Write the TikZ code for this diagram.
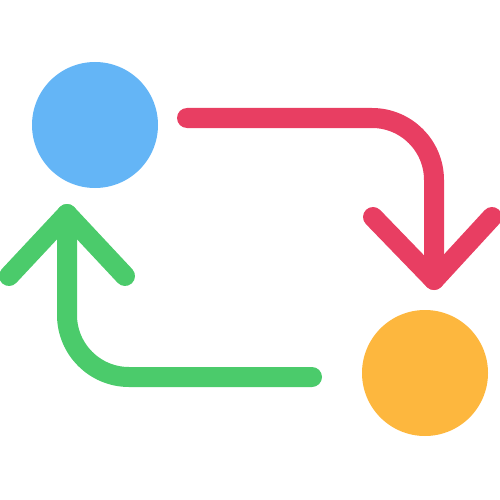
\documentclass[tikz,border=0pt]{standalone}
\usetikzlibrary{positioning}
\definecolor{dotblue}{HTML}{64B5F6}
\definecolor{dotyellow}{HTML}{FDB73E}
\definecolor{flowred}{HTML}{E83E62}
\definecolor{flowgreen}{HTML}{4BCB6B}
\begin{document}
\begin{tikzpicture}[x=1pt, y=-1pt,
                    dot/.style = {circle, inner sep=0pt, minimum size=126pt},
                    flow/.style = {line width=20pt, line cap=round, line join=round},
                    curved_flow/.style = {flow, rounded corners=62pt}
                    ]
\useasboundingbox (0,0) rectangle (500,500);

% --- Circles ---
\node[dot, fill=dotblue] (source) at (95,125) {};
\node[dot, fill=dotyellow] (target) at (425,373) {};

% --- Red arrow ---
\coordinate (redstart) at (187,118);
\coordinate (redtip) at (434,280);
\coordinate (redleft) at (373,217);
\coordinate (redright) at (492,217);
\draw[curved_flow, flowred] (redstart) -| (redtip);
\draw[flow, flowred] (redleft) -- (redtip) -- (redright);

% --- Green arrow ---
\coordinate (greenstart) at (312,377);
\coordinate (greentip) at (67,214);
\coordinate (greenleft) at (9,276);
\coordinate (greenright) at (125,276);
\draw[curved_flow, flowgreen] (greenstart) -| (greentip);
\draw[flow, flowgreen] (greenleft) -- (greentip) -- (greenright);
\end{tikzpicture}
\end{document}
